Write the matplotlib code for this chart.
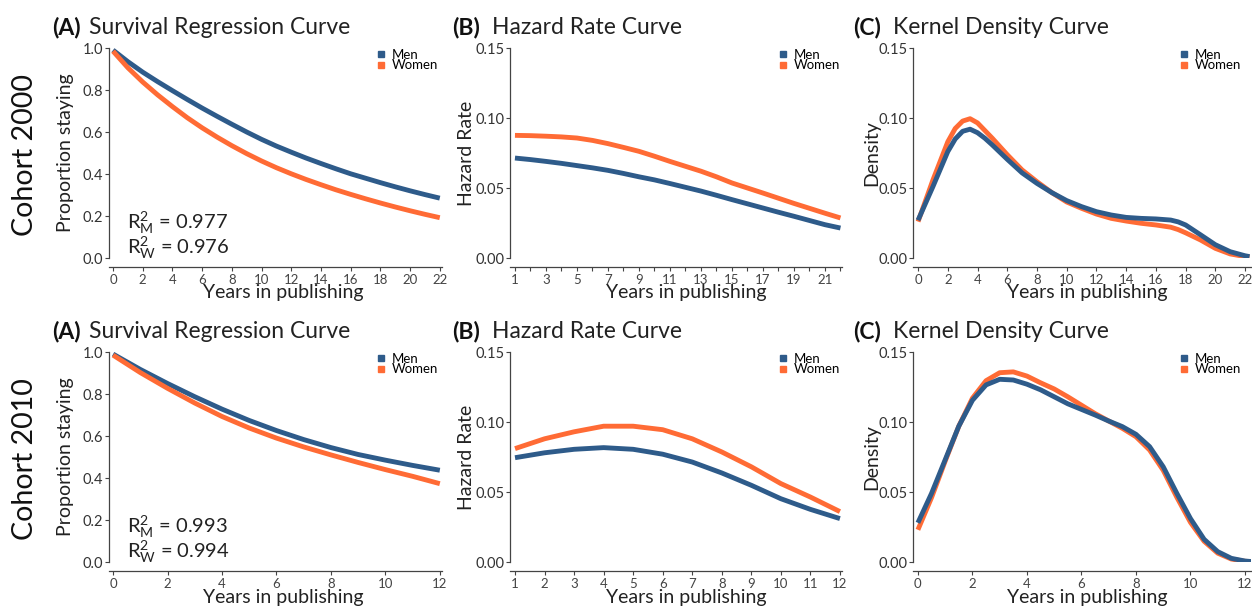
import matplotlib.pyplot as plt
from matplotlib.lines import Line2D

plt.rcParams['font.family'] = ['Lato', 'DejaVu Sans']
plt.rcParams['mathtext.fontset'] = 'custom'
plt.rcParams['mathtext.rm'] = 'Lato'
plt.rcParams['mathtext.it'] = 'Lato:italic'

W, H = 1252, 608
MEN_C = '#2E5B8A'
WOMEN_C = '#FF6B35'

# ── data: cohort 2000 ─────────────────────────────────────────────
surv_years_2000 = list(range(0, 23))
surv_men_2000 = [0.99, 0.935, 0.885, 0.84, 0.797, 0.755, 0.714, 0.675, 0.637, 0.60,
                 0.565, 0.533, 0.504, 0.476, 0.45, 0.425, 0.401, 0.38, 0.359, 0.339,
                 0.32, 0.302, 0.285]
surv_women_2000 = [0.985, 0.906, 0.838, 0.777, 0.721, 0.668, 0.62, 0.576, 0.535, 0.497,
                   0.462, 0.43, 0.401, 0.374, 0.349, 0.325, 0.303, 0.282, 0.262, 0.243,
                   0.225, 0.208, 0.192]

haz_years_2000 = list(range(1, 23))
haz_men_2000 = [0.0714, 0.0703, 0.069, 0.0676, 0.066, 0.0644, 0.0626, 0.0604, 0.058,
                0.0558, 0.0532, 0.0505, 0.0478, 0.0448, 0.0417, 0.0387, 0.0357,
                0.0327, 0.0298, 0.0268, 0.0238, 0.0214]
haz_women_2000 = [0.0876, 0.0874, 0.087, 0.0865, 0.0857, 0.084, 0.0817, 0.079, 0.0762,
                  0.0727, 0.069, 0.0655, 0.062, 0.058, 0.0536, 0.050, 0.0464, 0.0427,
                  0.039, 0.0355, 0.032, 0.0286]

kde_years_2000 = [0, 1, 2, 2.5, 3, 3.5, 4, 4.5, 5, 6, 7, 8, 9, 10, 11, 12, 13, 14, 15,
                  16, 17, 17.5, 18, 19, 20, 21, 22, 22.3]
kde_men_2000 = [0.027, 0.051, 0.076, 0.085, 0.0905, 0.092, 0.0895, 0.0855, 0.0807,
                0.0705, 0.0608, 0.0533, 0.0467, 0.041, 0.0367, 0.0331, 0.0307, 0.029,
                0.0283, 0.0279, 0.0271, 0.0258, 0.0236, 0.0166, 0.0095, 0.0045, 0.0016,
                0.0010]
kde_women_2000 = [0.026, 0.0557, 0.083, 0.0925, 0.0978, 0.0995, 0.0965, 0.091, 0.0855,
                  0.0738, 0.0629, 0.0545, 0.0467, 0.040, 0.0355, 0.0314, 0.0283, 0.0264,
                  0.0248, 0.0236, 0.022, 0.0203, 0.018, 0.0129, 0.0069, 0.0029, 0.001,
                  0.0006]

# ── data: cohort 2010 ─────────────────────────────────────────────
surv_years_2010 = list(range(0, 13))
surv_men_2010 = [0.99, 0.917, 0.85, 0.787, 0.728, 0.674, 0.626, 0.583, 0.545, 0.512,
                 0.485, 0.46, 0.437]
surv_women_2010 = [0.985, 0.902, 0.827, 0.757, 0.693, 0.638, 0.59, 0.548, 0.51, 0.474,
                   0.44, 0.408, 0.373]

haz_years_2010 = list(range(1, 13))
haz_men_2010 = [0.0745, 0.078, 0.0805, 0.0817, 0.0805, 0.077, 0.0714, 0.0636, 0.0548,
                0.0452, 0.0376, 0.031]
haz_women_2010 = [0.081, 0.088, 0.093, 0.097, 0.097, 0.0945, 0.088, 0.0786, 0.068,
                  0.056, 0.0464, 0.036]

kde_years_2010 = [0, 0.5, 1, 1.5, 2, 2.5, 3, 3.5, 4, 4.5, 5, 5.5, 6, 6.5, 7, 7.5, 8,
                  8.5, 9, 9.5, 10, 10.5, 11, 11.5, 12, 12.25]
kde_men_2010 = [0.028, 0.049, 0.073, 0.097, 0.1155, 0.1265, 0.1305, 0.130, 0.127, 0.123,
                0.118, 0.113, 0.109, 0.105, 0.1007, 0.0967, 0.0912, 0.0824, 0.068,
                0.049, 0.031, 0.0162, 0.0074, 0.0026, 0.0007, 0.0003]
kde_women_2010 = [0.023, 0.046, 0.072, 0.097, 0.117, 0.1295, 0.1352, 0.1358, 0.1328,
                  0.128, 0.1236, 0.118, 0.112, 0.106, 0.1007, 0.0955, 0.0895, 0.080,
                  0.0655, 0.0462, 0.0283, 0.0148, 0.0063, 0.0021, 0.0005, 0.0002]

cohort_labels = ['Cohort 2000', 'Cohort 2010']
r2_labels = [('0.977', '0.976'), ('0.993', '0.994')]

# ── layout (pixels) ───────────────────────────────────────────────
COLS = [(109, 442), (510, 842), (913, 1251)]
ROWS = [(48, 258), (352, 562)]
XLIMS = [[(-0.27, 22.15), (0.68, 22.1), (-0.34, 22.4)],
         [(-0.15, 12.08), (0.83, 12.07), (-0.18, 12.22)]]


def add_axes(fig, col, row):
    l, r = COLS[col]
    t, b = ROWS[row]
    return fig.add_axes([l / W, 1 - b / H, (r - l) / W, (b - t) / H])


def style(ax):
    for s in ['top', 'right']:
        ax.spines[s].set_visible(False)
    for s in ['left', 'bottom']:
        ax.spines[s].set_color('#444444')
        ax.spines[s].set_linewidth(0.9)
    ax.spines['bottom'].set_position(('outward', 6.5))
    ax.tick_params(axis='both', direction='out', length=3, width=0.8, color='#444444')
    ax.tick_params(axis='y', labelsize=10.5, labelcolor='#333333', pad=1)
    ax.tick_params(axis='x', labelsize=9.5, labelcolor='#444444', pad=2)


def ftext(x, y, s, **kw):
    fig.text(x / W, 1 - y / H, s, **kw)


fig = plt.figure(figsize=(W / 100, H / 100), dpi=100)

datasets = [
    (surv_years_2000, surv_men_2000, surv_women_2000,
     haz_years_2000, haz_men_2000, haz_women_2000,
     kde_years_2000, kde_men_2000, kde_women_2000),
    (surv_years_2010, surv_men_2010, surv_women_2010,
     haz_years_2010, haz_men_2010, haz_women_2010,
     kde_years_2010, kde_men_2010, kde_women_2010),
]
legend_x = [378, 780, 1181]
title_pos = [(52, 89, '(A)', 'Survival Regression Curve'),
             (452, 492, '(B)', 'Hazard Rate Curve'),
             (853, 893, '(C)', 'Kernel Density Curve')]
ylabel_pos = [(66, 'Proportion staying'), (467, 'Hazard Rate'), (872, 'Density')]
xlabel_x = [283, 686, 1087]

for row, data in enumerate(datasets):
    sy, sm, sw, hy, hm, hw, ky, km, kw = data
    top = ROWS[row][0]
    nyears = 22 if row == 0 else 12
    series = [(sy, sm, sw), (hy, hm, hw), (ky, km, kw)]
    for col in range(3):
        ax = add_axes(fig, col, row)
        style(ax)
        x, m, w = series[col]
        ax.plot(x, m, color=MEN_C, lw=3.5, solid_capstyle='butt',
                solid_joinstyle='round', zorder=3)
        ax.plot(x, w, color=WOMEN_C, lw=3.5, solid_capstyle='butt',
                solid_joinstyle='round', zorder=2 if col == 2 else 3)
        ax.set_xlim(XLIMS[row][col])
        if col == 0:
            ax.set_ylim(0, 1.0)
            ax.set_yticks([0, 0.2, 0.4, 0.6, 0.8, 1.0])
            ax.set_yticklabels(['0.0', '0.2', '0.4', '0.6', '0.8', '1.0'])
            ax.set_xticks(list(range(0, nyears + 1, 2)))
        else:
            ax.set_ylim(0, 0.15)
            ax.set_yticks([0, 0.05, 0.10, 0.15])
            ax.set_yticklabels(['0.00', '0.05', '0.10', '0.15'])
            if col == 1:
                ticks = list(range(1, nyears + 1))
                ax.set_xticks(ticks)
                if row == 0:
                    ax.set_xticklabels([str(t) if t % 2 == 1 else '' for t in ticks])
            else:
                ax.set_xticks(list(range(0, nyears + 1, 2)))

        # legend placed in figure pixels
        lx = legend_x[col]
        handles = [Line2D([], [], marker='s', ls='', color=MEN_C, markersize=5),
                   Line2D([], [], marker='s', ls='', color=WOMEN_C, markersize=5)]
        ax.legend(handles, ['Men', 'Women'], loc='upper left', frameon=False, fontsize=9.5,
                  bbox_to_anchor=(lx / W, 1 - (top + 1) / H),
                  bbox_transform=fig.transFigure, handlelength=0.5, handletextpad=0.55,
                  labelspacing=-0.12, borderpad=0, borderaxespad=0)

        # titles
        bx, tx, tag, title = title_pos[col]
        ftext(bx, top - 14, tag, fontsize=16.5, fontweight='bold', va='baseline',
              color='#111111')
        ftext(tx, top - 14, title, fontsize=16.5, va='baseline', color='#222222')

        # axis labels
        yx, ylab = ylabel_pos[col]
        ftext(yx, top + 105, ylab, fontsize=14, rotation=90, ha='center', va='center',
              color='#222222')
        ftext(xlabel_x[col], top + 245, 'Years in publishing', fontsize=14, ha='center',
              va='center', color='#222222')

    # R² annotations
    r_m, r_w = r2_labels[row]
    ftext(127, top + 181, r'$\mathregular{R^2_M}$ = ' + r_m, fontsize=14.5, va='baseline',
          color='#222222')
    ftext(127, top + 206, r'$\mathregular{R^2_W}$ = ' + r_w, fontsize=14.5, va='baseline',
          color='#222222')

    # cohort label
    ftext(25, top + 107, cohort_labels[row], fontsize=20.5, rotation=90, ha='center',
          va='center', color='#111111')

fig.savefig('out.png', dpi=100)
